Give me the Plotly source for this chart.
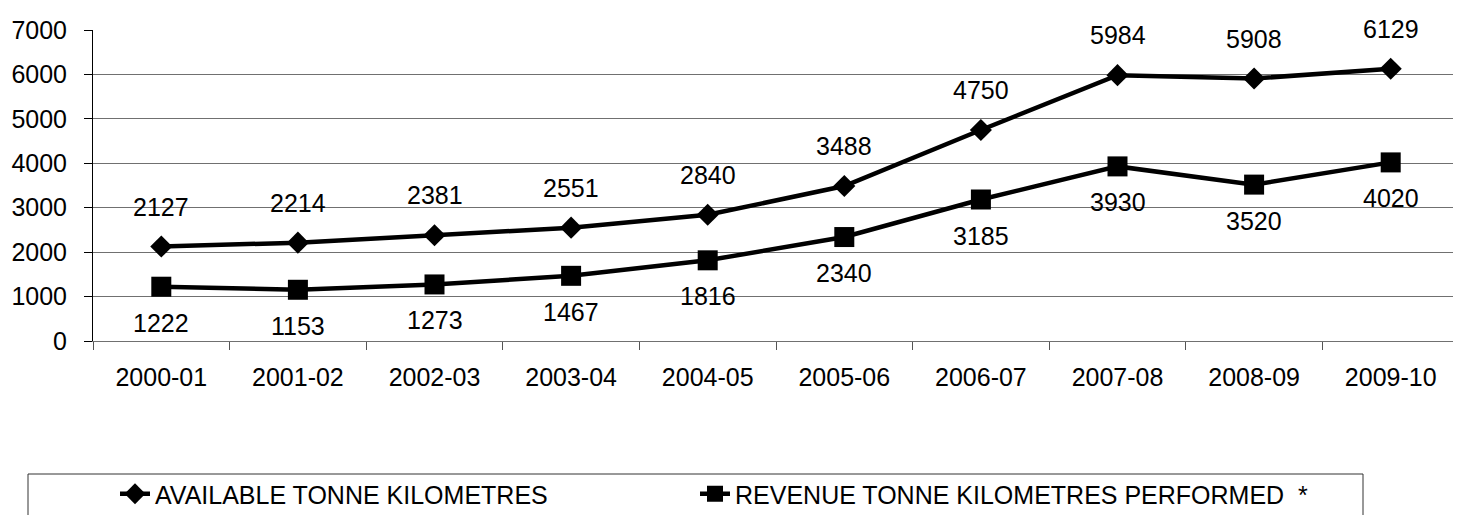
import plotly.graph_objects as go

categories = ["2000-01", "2001-02", "2002-03", "2003-04", "2004-05",
              "2005-06", "2006-07", "2007-08", "2008-09", "2009-10"]
available = [2127, 2214, 2381, 2551, 2840, 3488, 4750, 5984, 5908, 6129]
revenue = [1222, 1153, 1273, 1467, 1816, 2340, 3185, 3930, 3520, 4020]
y_ticks = [0, 1000, 2000, 3000, 4000, 5000, 6000, 7000]

FONT = "Liberation Sans, Arial, sans-serif"
FS = 25
OFF = 8  # page body margin in the browser
W, H = 1461 - OFF, 515 - OFF
L, T = 93 - OFF, 30 - OFF
R = W - (1459 - OFF)
B = H - (341 - OFF)
PW, PH = W - L - R, H - T - B

def px_x(px):
    return (px - OFF - L) / PW

def px_y(py):
    return (H - B - (py - OFF)) / PH

fig = go.Figure()
fig.add_trace(go.Scatter(
    x=categories, y=available, mode="lines+markers",
    name="AVAILABLE TONNE KILOMETRES", legend="legend",
    line=dict(color="black", width=4.5),
    marker=dict(symbol="diamond", size=17, color="black"),
))
fig.add_trace(go.Scatter(
    x=categories, y=revenue, mode="lines+markers",
    name="REVENUE TONNE KILOMETRES PERFORMED  *", legend="legend2",
    line=dict(color="black", width=4.5),
    marker=dict(symbol="square", size=20, color="black"),
))

annotations = []
for c, v in zip(categories, available):
    annotations.append(dict(x=c, y=v, xref="x", yref="y", text=str(v),
                            showarrow=False, yshift=40,
                            font=dict(family=FONT, size=FS, color="black")))
for c, v in zip(categories, revenue):
    annotations.append(dict(x=c, y=v, xref="x", yref="y", text=str(v),
                            showarrow=False, yshift=-36,
                            font=dict(family=FONT, size=FS, color="black")))

legend_common = dict(orientation="h", xanchor="left", yanchor="middle",
                     y=px_y(494), bgcolor="rgba(0,0,0,0)", borderwidth=0,
                     font=dict(family=FONT, size=FS, color="black"))

fig.update_layout(
    width=W, height=H,
    margin=dict(l=L, r=R, t=T, b=B, autoexpand=False),
    paper_bgcolor="white", plot_bgcolor="white",
    font=dict(family=FONT, size=FS, color="black"),
    showlegend=True,
    legend=dict(x=px_x(115), **legend_common),
    legend2=dict(x=px_x(695), **legend_common),
    annotations=annotations,
    shapes=[dict(type="rect", xref="paper", yref="paper",
                 x0=px_x(28), x1=px_x(1363), y0=px_y(540), y1=px_y(474),
                 line=dict(color="#333333", width=1), fillcolor="rgba(0,0,0,0)")],
)
fig.update_xaxes(
    type="category", range=[-0.5, len(categories) - 0.5],
    tickson="boundaries", ticks="outside", ticklen=8,
    tickcolor="#555555", showline=True, linecolor="#707070", linewidth=1,
    showgrid=False, tickfont=dict(family=FONT, size=FS, color="black"),
    ticklabelstandoff=14,
)
fig.update_yaxes(
    range=[0, 7000], tickvals=y_ticks, ticks="outside", ticklen=8,
    tickcolor="black", showline=True, linecolor="black", linewidth=1,
    showgrid=True, gridcolor="#707070", gridwidth=1, zeroline=False,
    tickfont=dict(family=FONT, size=FS, color="black"),
    ticklabelstandoff=12,
)
fig.write_html("out.html")
